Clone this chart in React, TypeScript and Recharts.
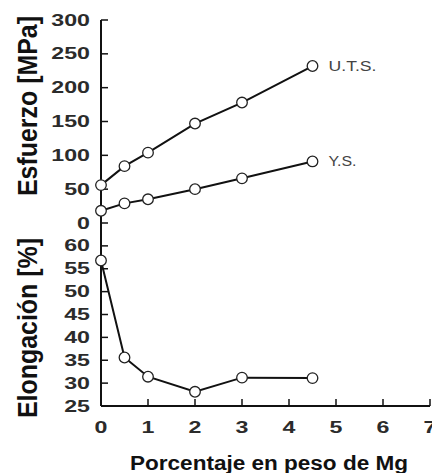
import { LineChart, Line, XAxis, YAxis } from "recharts";

// % Mg en peso (eje x común)
const pctMg = [0, 0.5, 1, 2, 3, 4.5];
// esfuerzos [MPa]
const uts = [56, 84, 104, 147, 178, 232];
const ys = [18, 29, 35, 50, 66, 91];
// elongación [%]
const elongacion = [56.8, 35.6, 31.4, 28.1, 31.2, 31.1];

const xTicks = [0, 1, 2, 3, 4, 5, 6, 7];
const stressTicks = [0, 50, 100, 150, 200, 250, 300];
const elongTicks = [25, 30, 35, 40, 45, 50, 55, 60];
const elongRightTicks = [25, 30, 35, 40, 45, 50, 55, 60, 65];

const stressData = pctMg.map((x, i) => ({ x, uts: uts[i], ys: ys[i] }));
const elongData = pctMg.map((x, i) => ({ x, e: elongacion[i] }));

const FONT = "'Liberation Sans', Arial, sans-serif";
const INK = "#111";
const TXT = "#2b2b2b";

const EmptyTick = () => <g />;

const YTick = ({ x, y, payload }: any) => (
  <text
    transform={`translate(${x},${y + 5.5}) scale(1.45,1)`}
    textAnchor="end"
    fontFamily={FONT}
    fontWeight="bold"
    fontSize={16}
    fill={TXT}
  >
    {payload.value}
  </text>
);

const XTick = ({ x, y, payload }: any) => (
  <text
    transform={`translate(${x},${y + 12}) scale(1.45,1)`}
    textAnchor="middle"
    fontFamily={FONT}
    fontWeight="bold"
    fontSize={16}
    fill={TXT}
  >
    {payload.value}
  </text>
);

const yTitle = (text: string, cy: number) => () => (
  <text
    transform={`translate(37,${cy}) rotate(-90)`}
    textAnchor="middle"
    fontFamily={FONT}
    fontWeight="bold"
    fontSize={28}
    textLength={text.length > 13 ? 180 : 176}
    lengthAdjust="spacingAndGlyphs"
    fill={INK}
  >
    {text}
  </text>
);

const xTitle = () => (
  <text
    x={269}
    y={470}
    textAnchor="middle"
    fontFamily={FONT}
    fontWeight="bold"
    fontSize={20}
    textLength={278}
    lengthAdjust="spacingAndGlyphs"
    fill={INK}
  >
    Porcentaje en peso de Mg
  </text>
);

// círculo abierto, y el nombre de la serie junto al último punto
const dotWithName = (name: string, width: number) => (p: any) => (
  <g key={`d-${name}-${p.index}`}>
    <circle cx={p.cx} cy={p.cy} r={5.3} fill="#fff" stroke="#222" strokeWidth={1.3} />
    {name && p.index === pctMg.length - 1 && (
      <text
        x={p.cx + 16}
        y={p.cy + 5}
        fontFamily={FONT}
        fontSize={14}
        textLength={width}
        lengthAdjust="spacingAndGlyphs"
        fill="#444"
      >
        {name}
      </text>
    )}
  </g>
);

const axisLine = { stroke: INK, strokeWidth: 2 };
const tickLine = { stroke: INK, strokeWidth: 1.5 };

export default function App() {
  return (
    <div style={{ position: "absolute", left: 0, top: 0, width: 432, height: 473, background: "#fff" }}>
      {/* panel inferior: elongación + eje x */}
      <LineChart
        width={432}
        height={473}
        data={elongData}
        margin={{ top: 223, right: 2, bottom: 0, left: 0 }}
        style={{ position: "absolute", left: 0, top: 0 }}
      >
        <XAxis
          xAxisId="b"
          type="number"
          dataKey="x"
          domain={[0, 7]}
          ticks={xTicks}
          interval={0}
          height={67}
          tickSize={-7}
          tickMargin={22}
          axisLine={axisLine}
          tickLine={tickLine}
          tick={XTick}
          label={xTitle}
        />
        <YAxis
          yAxisId="e"
          type="number"
          domain={[25, 65]}
          ticks={elongTicks}
          interval={0}
          width={101}
          tickSize={-7}
          tickMargin={18}
          axisLine={axisLine}
          tickLine={tickLine}
          tick={YTick}
          label={yTitle("Elongación [%]", 328)}
        />
        <YAxis
          yAxisId="er"
          orientation="right"
          type="number"
          domain={[25, 65]}
          ticks={elongRightTicks}
          interval={0}
          width={0}
          tickSize={-7}
          axisLine={false}
          tickLine={tickLine}
          tick={EmptyTick}
        />
        <Line
          xAxisId="b"
          yAxisId="e"
          dataKey="e"
          stroke={INK}
          strokeWidth={2}
          dot={dotWithName("", 0)}
          isAnimationActive={false}
        />
      </LineChart>

      {/* panel superior: esfuerzos */}
      <LineChart
        width={432}
        height={240}
        data={stressData}
        margin={{ top: 20, right: 2, bottom: 17, left: 0 }}
        style={{ position: "absolute", left: 0, top: 0 }}
      >
        <XAxis
          xAxisId="t"
          orientation="top"
          type="number"
          dataKey="x"
          domain={[0, 7]}
          ticks={xTicks}
          interval={0}
          height={0}
          tickSize={-7}
          axisLine={axisLine}
          tickLine={tickLine}
          tick={EmptyTick}
        />
        <YAxis
          yAxisId="s"
          type="number"
          domain={[0, 300]}
          ticks={stressTicks}
          interval={0}
          width={101}
          tickSize={-7}
          tickMargin={18}
          axisLine={axisLine}
          tickLine={tickLine}
          tick={YTick}
          label={yTitle("Esfuerzo [MPa]", 106)}
        />
        <YAxis
          yAxisId="sr"
          orientation="right"
          type="number"
          domain={[0, 300]}
          ticks={stressTicks}
          interval={0}
          width={0}
          tickSize={-7}
          axisLine={false}
          tickLine={tickLine}
          tick={EmptyTick}
        />
        <Line
          xAxisId="t"
          yAxisId="s"
          dataKey="uts"
          stroke={INK}
          strokeWidth={2}
          dot={dotWithName("U.T.S.", 48)}
          isAnimationActive={false}
        />
        <Line
          xAxisId="t"
          yAxisId="s"
          dataKey="ys"
          stroke={INK}
          strokeWidth={2}
          dot={dotWithName("Y.S.", 28)}
          isAnimationActive={false}
        />
      </LineChart>
    </div>
  );
}
